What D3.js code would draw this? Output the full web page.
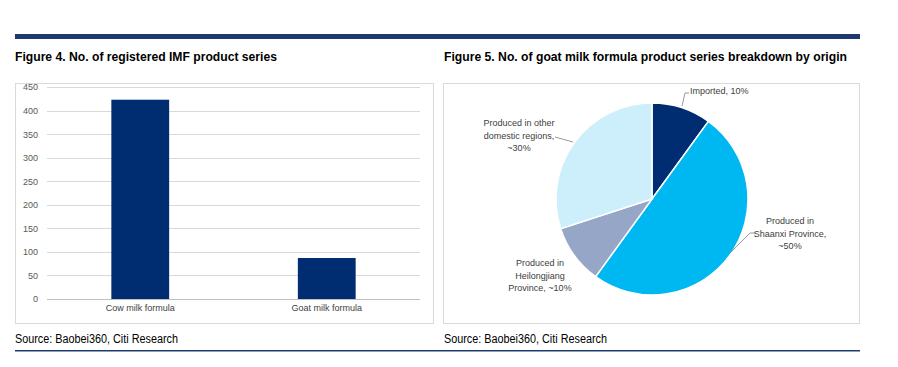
<!DOCTYPE html>
<html><head><meta charset="utf-8">
<script src="https://cdn.jsdelivr.net/npm/d3@7"></script>
<style>
body{margin:0;background:#fff;}
svg{display:block;}
</style></head>
<body>
<svg id="c" width="898" height="367"></svg>
<script>
// ---- data ----
const barCategories = ["Cow milk formula", "Goat milk formula"];
const barValues = [423, 87];
const yTicks = [0, 50, 100, 150, 200, 250, 300, 350, 400, 450];

const pieLabels = ["Imported, 10%", "Produced in Shaanxi Province, ~50%", "Produced in Heilongjiang Province, ~10%", "Produced in other domestic regions, ~30%"];
const pieValues = [10, 50, 10, 30];
const pieColors = ["#002D72", "#00B8F1", "#96A6C6", "#CCEFFB"];

const title1 = "Figure 4. No. of registered IMF product series";
const title2 = "Figure 5. No. of goat milk formula product series breakdown by origin";
const sourceText = "Source: Baobei360, Citi Research";

const svg = d3.select("#c");
const narrow = "'Liberation Sans Narrow','Arial Narrow','Liberation Sans',Arial,sans-serif";
const sans = "'Liberation Sans',Arial,sans-serif";

// top rule
svg.append("rect").attr("x",15).attr("y",34).attr("width",845).attr("height",5).attr("fill","#1C3A70");
// bottom rule
svg.append("rect").attr("x",15).attr("y",350).attr("width",845).attr("height",1.5).attr("fill","#1C3A70");

// titles
svg.append("text").attr("x",15).attr("y",61).text(title1)
  .attr("font-family",sans).attr("font-weight","bold").attr("font-size",13).attr("fill","#000")
  .attr("textLength",262).attr("lengthAdjust","spacingAndGlyphs");
svg.append("text").attr("x",444).attr("y",61).text(title2)
  .attr("font-family",sans).attr("font-weight","bold").attr("font-size",13).attr("fill","#000")
  .attr("textLength",403).attr("lengthAdjust","spacingAndGlyphs");

// boxes
svg.append("rect").attr("x",15.5).attr("y",83.5).attr("width",418).attr("height",240).attr("fill","none").attr("stroke","#DADADA");
svg.append("rect").attr("x",443.5).attr("y",83.5).attr("width",416).attr("height",240).attr("fill","none").attr("stroke","#DADADA");

// sources
[15,444].forEach(x=>{
  svg.append("text").attr("x",x).attr("y",343).text(sourceText)
    .attr("font-family",sans).attr("font-size",12).attr("fill","#000")
    .attr("textLength",163).attr("lengthAdjust","spacingAndGlyphs");
});

// ---- bar chart ----
const y = d3.scaleLinear().domain([0,450]).range([299,87]);
const x = d3.scaleBand().domain(barCategories).range([47,420]).padding(0);
const barW = x.bandwidth()*0.31;

const g = svg.append("g");
// gridlines
g.selectAll("line.grid").data(yTicks.filter(d=>d>0)).join("line")
  .attr("x1",47).attr("x2",420).attr("y1",d=>Math.round(y(d))+0.5).attr("y2",d=>Math.round(y(d))+0.5)
  .attr("stroke","#D9D9D9").attr("stroke-width",1);
// y tick labels
const yAxis = d3.axisLeft(y).tickValues(yTicks).tickSize(0).tickPadding(0);
const ya = g.append("g").attr("transform","translate(38,0)").call(yAxis);
ya.select(".domain").remove();
ya.selectAll("text").attr("font-family",narrow).attr("font-size",9).attr("fill","#595959");

// bars
g.selectAll("rect.bar").data(barValues).join("rect")
  .attr("x",(d,i)=>x(barCategories[i])+x.bandwidth()/2-barW/2)
  .attr("width",barW)
  .attr("y",d=>y(d)).attr("height",d=>y(0)-y(d))
  .attr("fill","#002D72");
// baseline
g.append("line").attr("x1",47).attr("x2",420).attr("y1",299.5).attr("y2",299.5).attr("stroke","#BFBFBF");
// x labels
const xAxis = d3.axisBottom(x).tickSize(0).tickPadding(0);
const xa = g.append("g").attr("transform","translate(0,305)").call(xAxis);
xa.select(".domain").remove();
xa.selectAll("text").attr("font-family",narrow).attr("font-size",9).attr("fill","#404040");

// ---- pie ----
const cx = 652, cy = 199, r = 96;
const pie = d3.pie().sort(null).value(d=>d)(pieValues);
const arc = d3.arc().innerRadius(0).outerRadius(r);
const pg = svg.append("g").attr("transform",`translate(${cx},${cy})`);
pg.selectAll("path").data(pie).join("path")
  .attr("d",arc).attr("fill",(d,i)=>pieColors[i])
  .attr("stroke","#fff").attr("stroke-width",1.5);

// leader lines
const lc = "#808080";
svg.append("polyline").attr("points","682,106 685,93 689,93").attr("fill","none").attr("stroke",lc).attr("stroke-width",0.8);
svg.append("polyline").attr("points","555,137 573,142").attr("fill","none").attr("stroke",lc).attr("stroke-width",0.8);
svg.append("polyline").attr("points","730,253 750,233 755,233").attr("fill","none").attr("stroke",lc).attr("stroke-width",0.8);

// pie labels
function multiLabel(lines, x, y0, anchor){
  const t = svg.append("text").attr("font-family",narrow).attr("font-size",9).attr("fill","#404040").attr("text-anchor",anchor);
  lines.forEach((s,i)=>t.append("tspan").attr("x",x).attr("y",y0+i*12.5).text(s));
}
multiLabel(["Imported, 10%"], 690, 94, "start");
multiLabel(["Produced in other","domestic regions,","~30%"], 519, 126, "middle");
multiLabel(["Produced in","Heilongjiang","Province, ~10%"], 540, 266, "middle");
multiLabel(["Produced in","Shaanxi Province,","~50%"], 790, 224, "middle");
</script>
</body></html>
